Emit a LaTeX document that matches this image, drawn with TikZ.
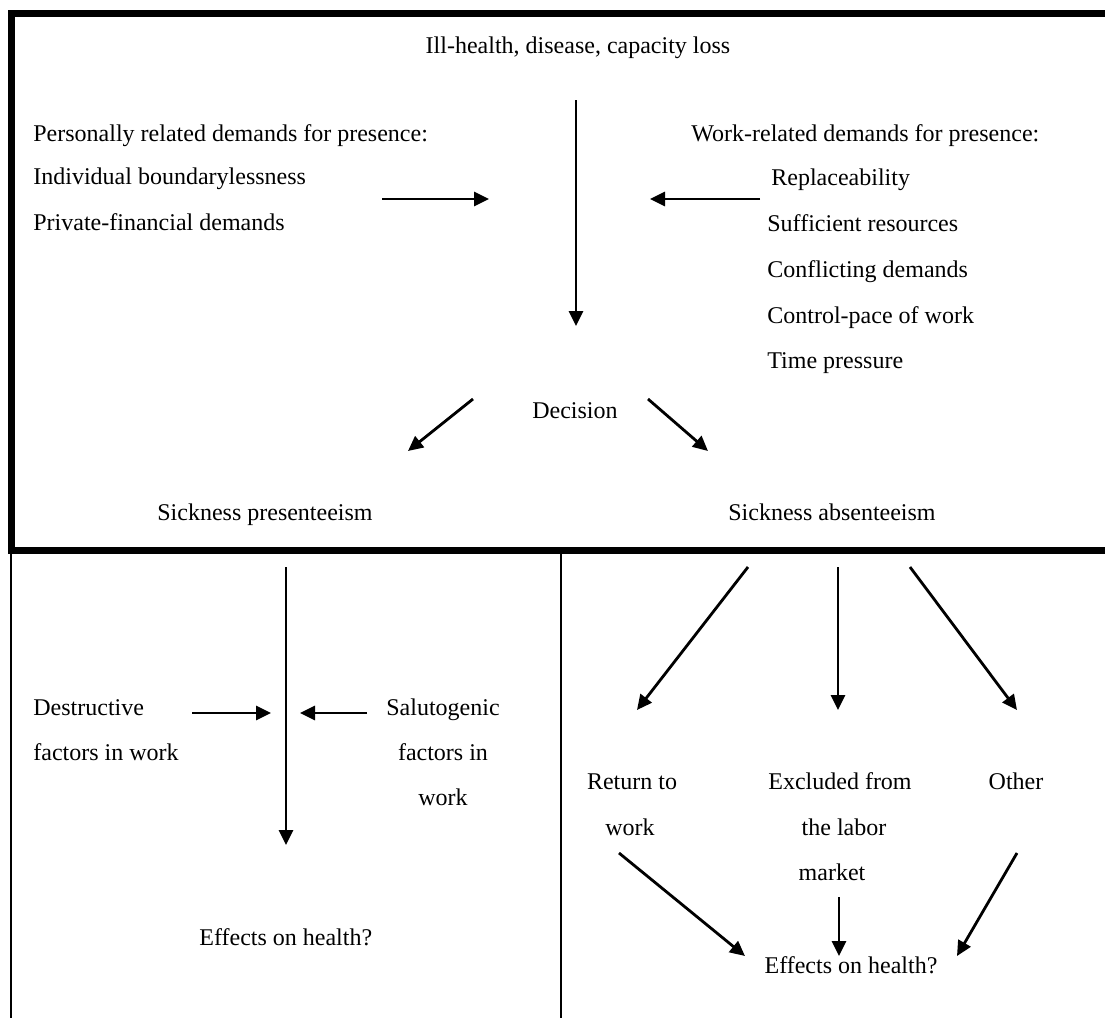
\documentclass[tikz,border=0pt]{standalone}
\usepackage{fontspec}
\setmainfont{Liberation Serif}
\usetikzlibrary{arrows.meta}
\begin{document}
\begin{tikzpicture}[x=0.5pt,y=-0.5pt,
  txt/.style={inner sep=0pt,font=\fontsize{12pt}{14pt}\selectfont},
  lt/.style={txt,anchor=mid west},
  ct/.style={txt,anchor=mid},
  arr/.style={line width=1.4pt,-{Triangle[length=7.5pt,width=7pt]}},
  frameline/.style={line width=3.5pt},
  thinline/.style={line width=1.1pt}]
\useasboundingbox (0,0) rectangle (1105,1018);
% frame
\draw[frameline] (1105,13.5) -| (11,550) -- (1105,550);
\draw[thinline] (11,550) -- (11,1018);
\draw[thinline] (561,550) -- (561,1018);
% top texts
\node[ct] (ill) at (578,49) {Ill-health, disease, capacity loss};
\node[lt] (pers) at (33,137) {Personally related demands for presence:};
\node[lt] (indiv) at (33,180) {Individual boundarylessness};
\node[lt] (priv) at (33,226) {Private-financial demands};
\node[lt] (work) at (691,137) {Work-related demands for presence:};
\node[lt] (repl) at (771,181) {Replaceability};
\node[lt] (suff) at (767,227) {Sufficient resources};
\node[lt] (conf) at (767,273) {Conflicting demands};
\node[lt] (ctrl) at (767,319) {Control-pace of work};
\node[lt] (time) at (767,364) {Time pressure};
\node[ct] (dec) at (575,414) {Decision};
\node[ct] (pres) at (265,516) {Sickness presenteeism};
\node[ct] (abs) at (832,516) {Sickness absenteeism};
% top arrows
\coordinate (v1a) at (576,100); \coordinate (v1b) at (576,326);
\coordinate (h1a) at (382,199); \coordinate (h1b) at (489,199);
\coordinate (h2a) at (760,199); \coordinate (h2b) at (650,199);
\coordinate (d1a) at (473,399); \coordinate (d1b) at (408,451);
\coordinate (d2a) at (648,399); \coordinate (d2b) at (708,451);
\draw[arr] (v1a) -- (v1b);
\draw[arr] (h1a) -- (h1b);
\draw[arr] (h2a) -- (h2b);
\draw[arr] (d1a) -- (d1b);
\draw[arr] (d2a) -- (d2b);
% bottom left panel
\node[lt] (des1) at (33,711) {Destructive};
\node[lt] (des2) at (33,756) {factors in work};
\node[ct] (sal1) at (443,711) {Salutogenic};
\node[ct] (sal2) at (443,756) {factors in};
\node[ct] (sal3) at (443,801) {work};
\node[lt] (eff1) at (199,941) {Effects on health?};
\coordinate (v2a) at (286,567); \coordinate (v2b) at (286,845);
\coordinate (h3a) at (192,713); \coordinate (h3b) at (271,713);
\coordinate (h4a) at (367,713); \coordinate (h4b) at (300,713);
\draw[arr] (v2a) -- (v2b);
\draw[arr] (h3a) -- (h3b);
\draw[arr] (h4a) -- (h4b);
% bottom right panel
\node[ct] (ret1) at (632,785) {Return to};
\node[ct] (ret2) at (630,831) {work};
\node[ct] (exc1) at (840,785) {Excluded from};
\node[ct] (exc2) at (844,831) {the labor};
\node[ct] (exc3) at (832,876) {market};
\node[ct] (oth) at (1016,785) {Other};
\node[ct] (eff2) at (851,969) {Effects on health?};
\coordinate (r1a) at (748,567); \coordinate (r1b) at (637,710);
\coordinate (r2a) at (838,567); \coordinate (r2b) at (838,710);
\coordinate (r3a) at (910,567); \coordinate (r3b) at (1017,710);
\coordinate (b1a) at (619,853); \coordinate (b1b) at (745,956);
\coordinate (b2a) at (839,897); \coordinate (b2b) at (839,956);
\coordinate (b3a) at (1017,853); \coordinate (b3b) at (957,956);
\draw[arr] (r1a) -- (r1b);
\draw[arr] (r2a) -- (r2b);
\draw[arr] (r3a) -- (r3b);
\draw[arr] (b1a) -- (b1b);
\draw[arr] (b2a) -- (b2b);
\draw[arr] (b3a) -- (b3b);
\end{tikzpicture}
\end{document}
